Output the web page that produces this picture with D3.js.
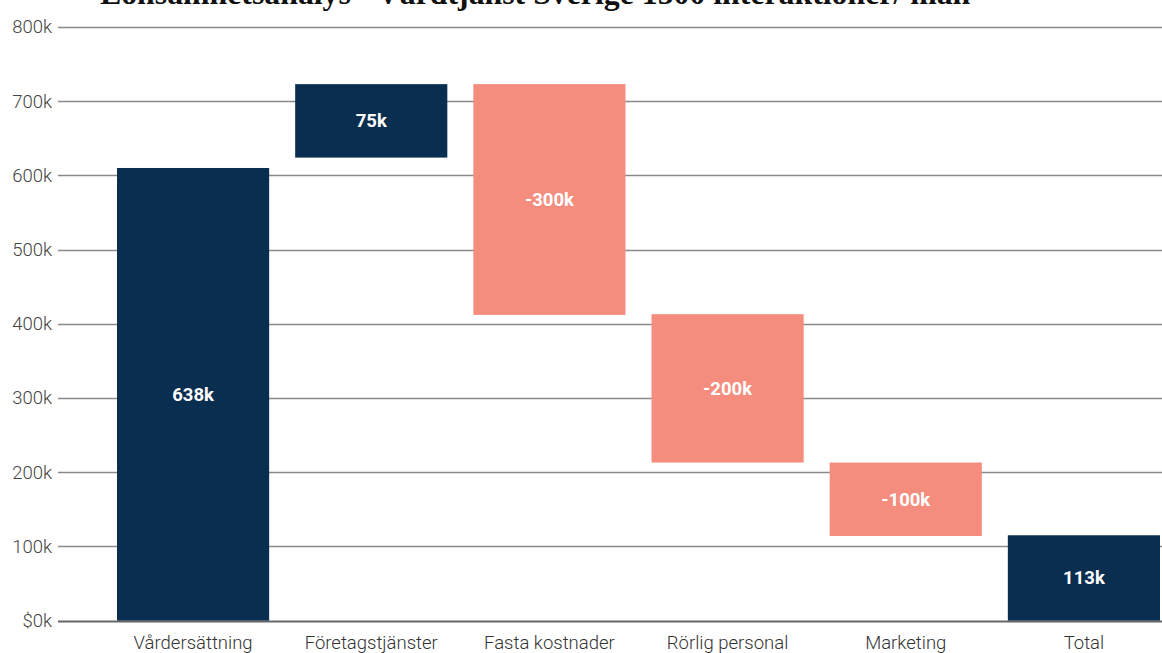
<!DOCTYPE html>
<html>
<head>
<meta charset="utf-8">
<script src="https://cdn.jsdelivr.net/npm/d3@7"></script>
<style>
  body { margin: 0; background: #fff; overflow: hidden; }
  svg { display: block; }
</style>
</head>
<body>
<script>
var width = 1162;
var height = 653;

var title = "Lönsamhetsanalys - Vårdtjänst Sverige 1500 interaktioner/ mån";
var categories = ["Vårdersättning", "Företagstjänster", "Fasta kostnader", "Rörlig personal", "Marketing", "Total"];
// bar extents in k, as drawn
var barStart = [0, 624, 723, 413, 213, 0];
var barEnd = [610, 723, 412, 213, 114, 115];
var barLabels = ["638k", "75k", "-300k", "-200k", "-100k", "113k"];
var barKind = ["pos", "pos", "neg", "neg", "neg", "pos"];
var yTicks = [0, 100, 200, 300, 400, 500, 600, 700, 800];

var colors = { pos: "#0a2e4f", neg: "#f48d7e" };

var svg = d3.select("body")
    .append("svg")
    .attr("width", width)
    .attr("height", height);

var x = d3.scaleBand()
    .domain(categories)
    .range([104, 1173])
    .paddingInner(0.146)
    .paddingOuter(0.073);

var y = d3.scaleLinear()
    .domain([0, 800])
    .range([620.6, 27]);

// title (top of it falls outside the frame, as in the original)
svg.append("text")
    .attr("x", 100)
    .attr("y", 4)
    .attr("font-family", "'Liberation Serif', serif")
    .attr("font-weight", "bold")
    .attr("font-size", 31.8)
    .attr("fill", "#111")
    .text(title);

// y axis labels
var yAxis = d3.axisLeft(y)
    .tickValues(yTicks)
    .tickSize(0)
    .tickPadding(6)
    .tickFormat(function (d) { return d === 0 ? "$0k" : d + "k"; });

var gy = svg.append("g")
    .attr("transform", "translate(58,0)")
    .call(yAxis);
gy.select(".domain").remove();
gy.selectAll("text")
    .attr("font-family", "Roboto, sans-serif")
    .attr("font-weight", 300)
    .attr("font-size", 18.5)
    .attr("fill", "#444");

// grid
svg.append("g").selectAll("line")
    .data(yTicks)
    .enter()
    .append("line")
    .attr("x1", 58)
    .attr("x2", width)
    .attr("y1", function (d) { return Math.round(y(d)) + 0.5; })
    .attr("y2", function (d) { return Math.round(y(d)) + 0.5; })
    .attr("stroke", function (d) { return d === 0 ? "#666" : "#8a8a8a"; })
    .attr("stroke-width", function (d) { return d === 0 ? 2 : 1.4; });

// bars
var bars = svg.append("g").selectAll("g")
    .data(categories)
    .enter()
    .append("g");

bars.append("rect")
    .attr("x", function (d) { return x(d); })
    .attr("width", x.bandwidth())
    .attr("y", function (d, i) { return y(Math.max(barStart[i], barEnd[i])); })
    .attr("height", function (d, i) { return Math.abs(y(barStart[i]) - y(barEnd[i])); })
    .attr("fill", function (d, i) { return colors[barKind[i]]; });

bars.append("text")
    .attr("x", function (d) { return x(d) + x.bandwidth() / 2; })
    .attr("y", function (d, i) { return (y(barStart[i]) + y(barEnd[i])) / 2; })
    .attr("dy", "0.35em")
    .attr("text-anchor", "middle")
    .attr("font-family", "Roboto, sans-serif")
    .attr("font-weight", "bold")
    .attr("font-size", 18.5)
    .attr("fill", "#fff")
    .text(function (d, i) { return barLabels[i]; });

// x axis labels
var xAxis = d3.axisBottom(x).tickSize(0).tickPadding(15);
var gx = svg.append("g")
    .attr("transform", "translate(0," + y(0) + ")")
    .call(xAxis);
gx.select(".domain").remove();
gx.selectAll("text")
    .attr("font-family", "Roboto, sans-serif")
    .attr("font-weight", 300)
    .attr("font-size", 18.5)
    .attr("fill", "#333");
</script>
</body>
</html>
